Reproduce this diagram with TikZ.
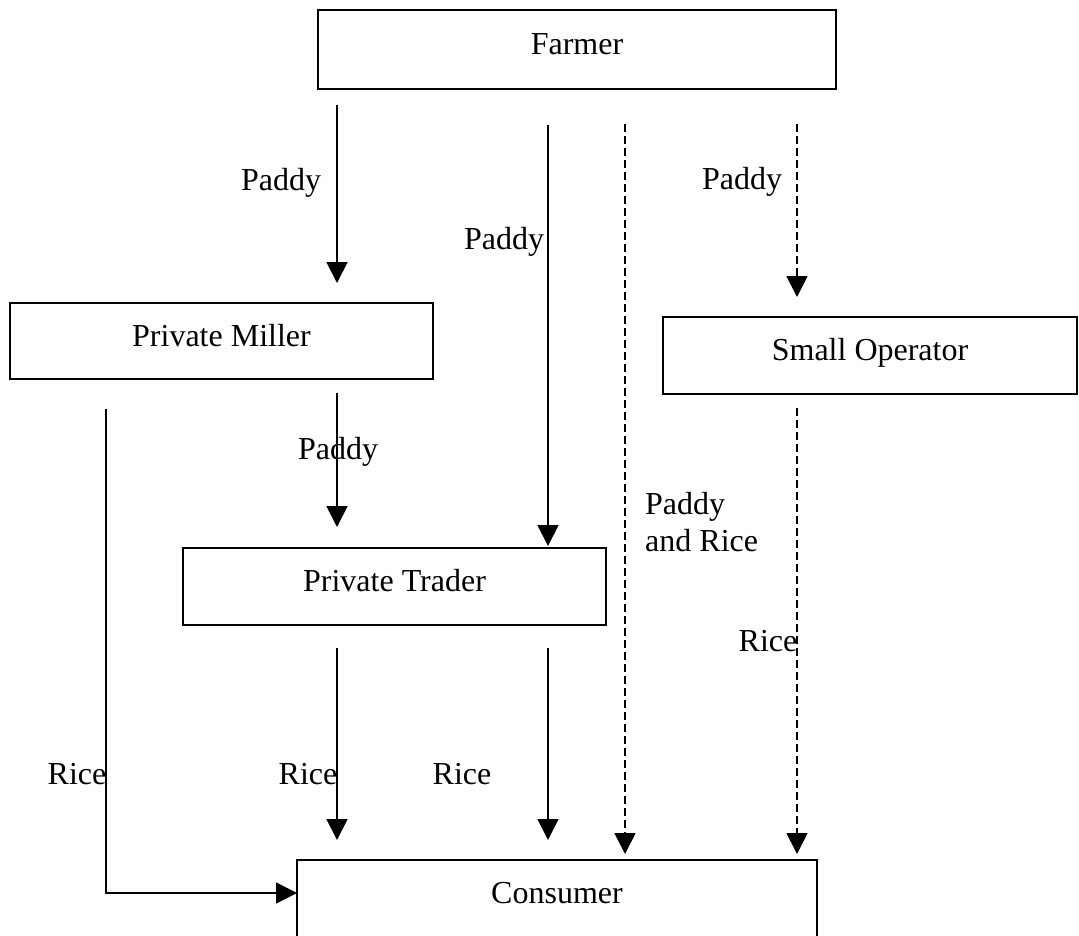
\documentclass[tikz,border=0pt]{standalone}
\usepackage{fontspec}
\setmainfont{Liberation Serif}
\usetikzlibrary{arrows.meta}

\begin{document}
\begin{tikzpicture}[x=1pt,y=-1pt,
  font=\fontsize{32}{37}\selectfont,
  box/.style={draw, line width=1.8pt, rectangle, inner sep=0pt, outer sep=0pt,
    text height=22pt, text depth=12pt},
  flow/.style={line width=1.8pt, -{Triangle[length=21pt,width=21pt]}},
  flowdash/.style={flow, dash pattern=on 8pt off 4pt},
  tag/.style={inner sep=0pt, anchor=base}
]
\useasboundingbox (0,0) rectangle (1079,935);

% boxes
\node[box, minimum width=518pt, minimum height=79pt] (farmer)   at (577,49.5)  {Farmer};
\node[box, minimum width=423pt, minimum height=76pt] (miller)   at (221.5,341) {Private Miller};
\node[box, minimum width=414pt, minimum height=77pt] (smallop)  at (870,355.5) {Small Operator};
\node[box, minimum width=423pt, minimum height=77pt] (trader)   at (394.5,586.5) {Private Trader};
\node[box, minimum width=520pt, minimum height=77pt] (consumer) at (557,898.5) {Consumer};

% arrow columns
\coordinate (c0) at (106,893);
\coordinate (c1) at (337,0);
\coordinate (c2) at (548,0);
\coordinate (c3) at (625,0);
\coordinate (c4) at (797,0);

% connectors
\draw[flow, shorten <=16pt, shorten >=20pt] (farmer.south -| c1) -- (miller.north -| c1);
\draw[flow, shorten <=36pt, shorten >=2pt]  (farmer.south -| c2) -- (trader.north -| c2);
\draw[flowdash, shorten <=35pt, shorten >=6pt] (farmer.south -| c3) -- (consumer.north -| c3);
\draw[flowdash, shorten <=35pt, shorten >=20pt] (farmer.south -| c4) -- (smallop.north -| c4);
\draw[flow, shorten <=14pt, shorten >=21pt] (miller.south -| c1) -- (trader.north -| c1);
\draw[flow, shorten <=15pt] ([yshift=-15pt]miller.south -| c0) -- (c0) -- (c0 -| consumer.west);
\draw[flow, shorten <=23pt, shorten >=20pt] (trader.south -| c1) -- (consumer.north -| c1);
\draw[flow, shorten <=23pt, shorten >=20pt] (trader.south -| c2) -- (consumer.north -| c2);
\draw[flowdash, shorten <=14pt, shorten >=6pt] (smallop.south -| c4) -- (consumer.north -| c4);

% labels
\node[tag] (l1) at (281,190) {Paddy};
\node[tag] (l2) at (504,249) {Paddy};
\node[tag] (l3) at (742,189) {Paddy};
\node[tag] (l4) at (338,459) {Paddy};
\node[inner sep=0pt, anchor=base west, align=left] (l5) at (645,551) {Paddy\\and Rice};
\node[tag] (l6) at (768,651) {Rice};
\node[tag] (l7) at (77,784) {Rice};
\node[tag] (l8) at (308,784) {Rice};
\node[tag] (l9) at (462,784) {Rice};
\end{tikzpicture}
\end{document}
